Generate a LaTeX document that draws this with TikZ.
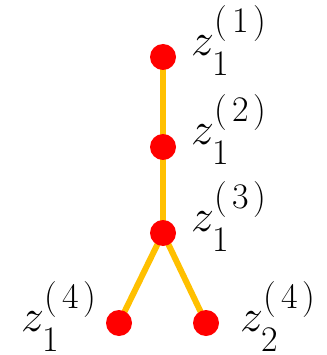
\RequirePackage{fix-cm}
\documentclass[tikz,border=0pt]{standalone}
\usetikzlibrary{backgrounds}
\definecolor{edgecol}{HTML}{FFC000}
\newcommand\scrfont{\fontsize{36}{36}\selectfont}
\newcommand\zlab[2]{$z$\kern0.5pt\rlap{\raisebox{23pt}{\scrfont(\kern5pt#2\kern5pt)}}\kern-2pt\raisebox{-20pt}{\scrfont#1}}
\begin{document}
\begin{tikzpicture}[x=1pt,y=-1pt,
  dot/.style={circle,fill=red,draw=none,minimum size=26pt,inner sep=0pt},
  lbl/.style={anchor=base west,inner sep=0pt,font=\fontsize{46}{46}\selectfont},
  edge/.style={draw=edgecol,line width=6pt}]
\useasboundingbox (0,0) rectangle (326,355);
\node[dot] (n1) at (163,57) {};
\node[dot] (n2) at (163,147) {};
\node[dot] (n3) at (163,233) {};
\node[dot] (n4) at (119,323) {};
\node[dot] (n5) at (206,323) {};
\begin{scope}[on background layer]
\draw[edge] (n1.center) -- (n2.center);
\draw[edge] (n2.center) -- (n3.center);
\draw[edge] (n3.center) -- (n4.center);
\draw[edge] (n3.center) -- (n5.center);
\end{scope}
\node[lbl] (l1) at (191,56) {\zlab{1}{1}};
\node[lbl] (l2) at (191,145) {\zlab{1}{2}};
\node[lbl] (l3) at (191,231) {\zlab{1}{3}};
\node[lbl] (l4) at (21,331) {\zlab{1}{4}};
\node[lbl] (l5) at (240,331) {\zlab{2}{4}};
\end{tikzpicture}
\end{document}
